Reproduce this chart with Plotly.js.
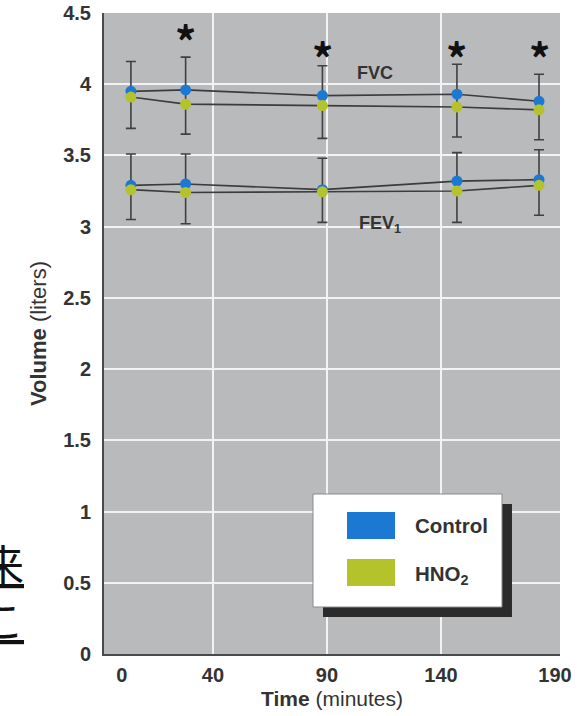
<!DOCTYPE html>
<html>
<head>
<meta charset="utf-8">
<script src="https://cdn.plot.ly/plotly-3.0.1.min.js"></script>
<style>
  html, body { margin: 0; padding: 0; background: #ffffff; }
  #chart { width: 588px; height: 716px; }
</style>
</head>
<body>
<div id="chart"></div>
<script>
// ---- data ----
const times = [4, 28, 88, 147, 183];               // minutes
const xTickVals = [0, 40, 90, 140, 190];
const xGridVals = [40, 90, 140];

const fvcControl = [3.95, 3.96, 3.92, 3.93, 3.88];
const fvcHNO2    = [3.91, 3.86, 3.85, 3.84, 3.82];
const fvcErrTop  = [4.16, 4.19, 4.13, 4.14, 4.07];
const fvcErrBot  = [3.69, 3.65, 3.62, 3.63, 3.61];

const fev1Control = [3.29, 3.30, 3.26, 3.32, 3.33];
const fev1HNO2    = [3.26, 3.24, 3.245, 3.25, 3.29];
const fev1ErrTop  = [3.51, 3.51, 3.48, 3.52, 3.54];
const fev1ErrBot  = [3.05, 3.02, 3.03, 3.03, 3.08];

const sigTimes = [28, 88, 147, 183];
const sigY     = [4.36, 4.245, 4.245, 4.245];

const seriesNames = ['Control', 'HNO<sub>2</sub>'];
const seriesColors = ['#1b79d4', '#b4c22c'];
const jpText = ['来', 'こ'];

// ---- styling ----
const FONT = 'Liberation Sans, Arial, sans-serif';
const TXT = '#333333';
const LINE = '#3c3c3c';

function errPlus(vals, top) { return vals.map((v, i) => top[i] - v); }
function errMinus(vals, bot) { return vals.map((v, i) => v - bot[i]); }

function seriesTrace(y, color, err) {
  const t = {
    x: times, y: y, type: 'scatter', mode: 'lines+markers',
    line: { color: LINE, width: 1.6 },
    marker: { color: color, size: 11 },
    showlegend: false, hoverinfo: 'x+y'
  };
  if (err) {
    t.error_y = { type: 'data', symmetric: false, array: err[0], arrayminus: err[1],
                  color: '#404040', thickness: 1.6, width: 5 };
  }
  return t;
}

const traces = [
  seriesTrace(fvcControl, seriesColors[0], [errPlus(fvcControl, fvcErrTop), errMinus(fvcControl, fvcErrBot)]),
  seriesTrace(fvcHNO2, seriesColors[1]),
  seriesTrace(fev1Control, seriesColors[0], [errPlus(fev1Control, fev1ErrTop), errMinus(fev1Control, fev1ErrBot)]),
  seriesTrace(fev1HNO2, seriesColors[1])
];

const annotations = [];
sigTimes.forEach((t, i) => {
  annotations.push({ x: t, y: sigY[i], xref: 'x', yref: 'y', text: '<b>*</b>', showarrow: false,
    font: { family: 'Noto Sans CJK JP, DejaVu Sans, sans-serif', size: 42, color: '#111111' },
    xanchor: 'center', yanchor: 'middle', yshift: -7 });
});
annotations.push({ x: 111, y: 4.077, xref: 'x', yref: 'y', text: '<b>FVC</b>', showarrow: false,
  font: { family: FONT, size: 18, color: TXT }, xanchor: 'center', yanchor: 'middle' });
annotations.push({ x: 103, y: 3.03, xref: 'x', yref: 'y', text: '<b>FEV<sub>1</sub></b>', showarrow: false,
  font: { family: FONT, size: 18, color: TXT }, xanchor: 'left', yanchor: 'middle', yshift: -2 });

// legend (drawn as a framed box with shadow)
const lgY = [0.2012, 0.1295];
const swY = [[0.1794, 0.2215], [0.1061, 0.1482]];
annotations.push({ x: 0.6776, y: lgY[0], xref: 'paper', yref: 'paper', text: '<b>' + seriesNames[0] + '</b>',
  showarrow: false, font: { family: FONT, size: 20.5, color: TXT }, xanchor: 'left', yanchor: 'middle' });
annotations.push({ x: 0.6776, y: lgY[1], xref: 'paper', yref: 'paper', text: '<b>' + seriesNames[1] + '</b>',
  showarrow: false, font: { family: FONT, size: 20.5, color: TXT }, xanchor: 'left', yanchor: 'middle', yshift: -4 });

// clipped page text at left edge
annotations.push({ x: -0.171, y: 0.143, xref: 'paper', yref: 'paper', text: '<u>' + jpText[0] + '</u>',
  showarrow: false, font: { family: 'Noto Sans CJK JP, sans-serif', size: 42, color: '#111111' },
  xanchor: 'right', yanchor: 'middle' });
annotations.push({ x: -0.171, y: 0.055, xref: 'paper', yref: 'paper', text: '<u>' + jpText[1] + '</u>',
  showarrow: false, font: { family: 'Noto Sans CJK JP, sans-serif', size: 42, color: '#111111' },
  xanchor: 'right', yanchor: 'middle' });

const shapes = [
  { type: 'rect', xref: 'paper', yref: 'paper', x0: 0.4803, x1: 0.8947, y0: 0.0577, y1: 0.234,
    fillcolor: '#2b2b2b', line: { width: 0 } },
  { type: 'rect', xref: 'paper', yref: 'paper', x0: 0.4583, x1: 0.8728, y0: 0.0733, y1: 0.2496,
    fillcolor: '#ffffff', line: { color: '#8a8a8a', width: 1 } },
  { type: 'rect', xref: 'paper', yref: 'paper', x0: 0.5329, x1: 0.6382, y0: swY[0][0], y1: swY[0][1],
    fillcolor: seriesColors[0], line: { width: 0 } },
  { type: 'rect', xref: 'paper', yref: 'paper', x0: 0.5329, x1: 0.6382, y0: swY[1][0], y1: swY[1][1],
    fillcolor: seriesColors[1], line: { width: 0 } }
];

const layout = {
  width: 588, height: 716,
  margin: { l: 104, r: 28, t: 13, b: 62 },
  paper_bgcolor: '#ffffff',
  plot_bgcolor: '#b9babc',
  showlegend: false,
  font: { family: FONT, color: TXT },
  xaxis: {
    range: [-7.8, 192.2], tickmode: 'array', tickvals: xTickVals,
    showgrid: false, zeroline: false,
    minor: { tickmode: 'array', tickvals: xGridVals, showgrid: true, gridcolor: '#f3f3f3', gridwidth: 2, ticks: '' },
    showline: true, linecolor: '#4a4a4a', linewidth: 2,
    ticks: '', ticklabelstandoff: 2,
    tickfont: { family: FONT, size: 20, color: TXT, weight: 'bold' },
    title: { text: '<b>Time</b> (minutes)', font: { family: FONT, size: 21, color: TXT }, standoff: 6 }
  },
  yaxis: {
    range: [0, 4.5], tickmode: 'linear', tick0: 0, dtick: 0.5,
    showgrid: true, gridcolor: '#f3f3f3', gridwidth: 2, zeroline: false,
    showline: true, linecolor: '#4a4a4a', linewidth: 2,
    ticks: '', ticklabelstandoff: 7,
    tickfont: { family: FONT, size: 20, color: TXT, weight: 'bold' },
    title: { text: '<b>Volume</b> (liters)', font: { family: FONT, size: 22, color: TXT }, standoff: 10 }
  },
  annotations: annotations,
  shapes: shapes
};

Plotly.newPlot('chart', traces, layout, { displayModeBar: false, staticPlot: true });
</script>
</body>
</html>
